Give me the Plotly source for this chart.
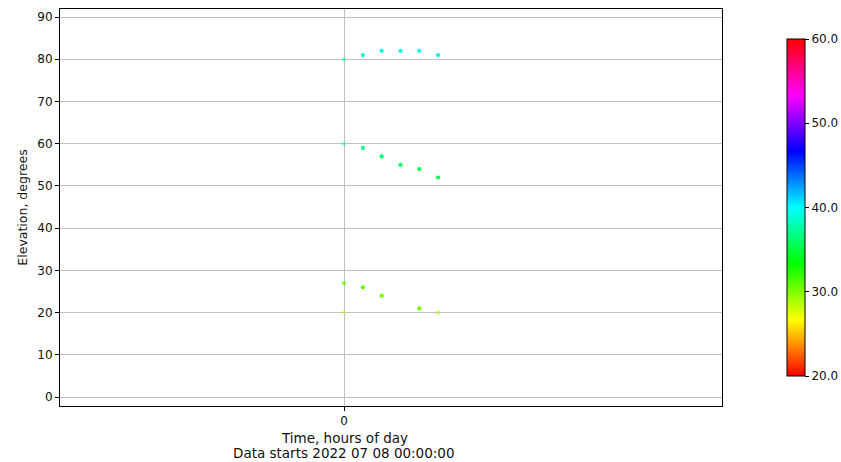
import plotly.graph_objects as go

# Data: time in hours, elevation in degrees, colour value (SNR-like, 20..60)
hours = [0.0, 1/12, 2/12, 3/12, 4/12, 5/12,
         0.0, 1/12, 2/12, 3/12, 4/12, 5/12,
         0.0, 1/12, 2/12, 4/12, 5/12,
         0.0]
elevation = [80, 81, 82, 82, 82, 81,
             60, 59, 57, 55, 54, 52,
             27, 26, 24, 21, 20,
             20]
color_value = [38, 39, 39.5, 39.5, 39.5, 39,
               38, 37, 36, 36, 35.5, 35,
               31, 31, 30.5, 30.5, 29,
               28]
alpha = [0.5, 1, 1, 1, 1, 1,
         0.5, 1, 1, 1, 1, 1,
         0.7, 1, 1, 1, 0.6,
         0.45]

cbar_ticks = [20, 30, 40, 50, 60]
y_ticks = [0, 10, 20, 30, 40, 50, 60, 70, 80, 90]
x_ticks = [0]

hsv = [[0.0, "#ff0000"], [1/6, "#ffff00"], [2/6, "#00ff00"], [3/6, "#00ffff"],
       [4/6, "#0000ff"], [5/6, "#ff00ff"], [1.0, "#ff0000"]]

fig = go.Figure()
fig.add_trace(go.Scatter(
    x=hours, y=elevation, mode="markers",
    marker=dict(size=4.2, color=color_value, colorscale=hsv, cmin=20, cmax=60,
                opacity=alpha, line=dict(width=0),
                colorbar=dict(x=(787-60)/662, xanchor="left", y=0.5, yanchor="middle",
                              xpad=0, ypad=0,
                              len=337/397, lenmode="fraction", thickness=18,
                              outlinecolor="black", outlinewidth=1,
                              tickvals=cbar_ticks, tickformat=".1f",
                              ticks="outside", ticklen=4, tickcolor="black",
                              tickfont=dict(size=12, color="#111"))),
    showlegend=False,
))

fig.update_layout(
    width=841, height=462,
    margin=dict(l=60, r=119, t=9, b=56, autoexpand=False),
    paper_bgcolor="white", plot_bgcolor="white",
    font=dict(family="DejaVu Sans", size=12, color="#111"),
    xaxis=dict(range=[-1.26, 1.676], tickvals=x_ticks, ticktext=["0"],
               showgrid=True, gridcolor="#c0c0c0", gridwidth=1,
               zeroline=False, showline=True, linecolor="black", linewidth=1,
               mirror=True, ticks="outside", ticklen=4, tickcolor="black",
               tickfont=dict(size=12)),
    yaxis=dict(range=[-2.1, 91.9], tickvals=y_ticks,
               showgrid=True, gridcolor="#c0c0c0", gridwidth=1,
               zeroline=False, showline=True, linecolor="black", linewidth=1,
               mirror=True, ticks="outside", ticklen=4, tickcolor="black",
               tickfont=dict(size=12),
               title=dict(text="Elevation, degrees", font=dict(size=12.5), standoff=6)),
    annotations=[
        dict(text="Time, hours of day", xref="paper", yref="paper", x=(344-60)/662,
             y=-31.7/397, xanchor="center", yanchor="middle", showarrow=False,
             font=dict(size=13.5)),
        dict(text="Data starts 2022 07 08 00:00:00", xref="paper", yref="paper",
             x=(344-60)/662, y=-47.3/397, xanchor="center", yanchor="middle",
             showarrow=False, font=dict(size=13.5)),
    ],
)

fig.write_html("out.html", config={"displayModeBar": False},
               post_script="document.body.style.margin='0';document.body.style.overflow='hidden';")
